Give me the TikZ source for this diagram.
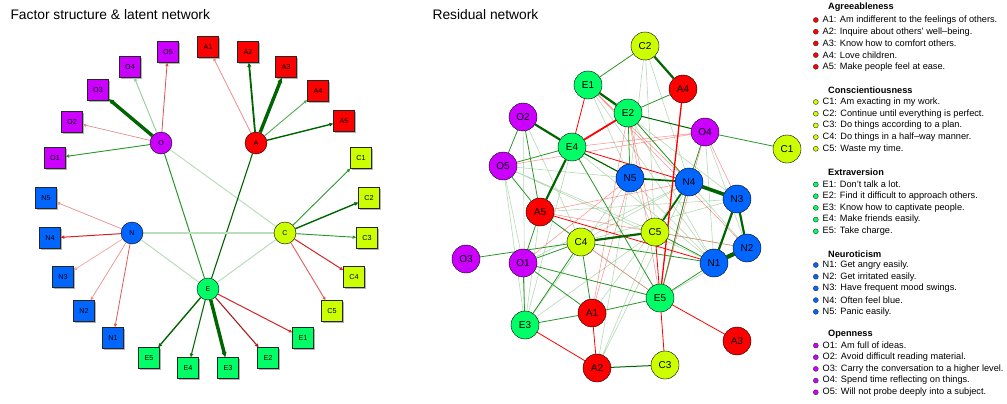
\documentclass[tikz,border=0pt]{standalone}
\usepackage{fontspec}
\setmainfont{Liberation Sans}
\usepackage{tikz}
\usetikzlibrary{arrows.meta,shadows,backgrounds}

\definecolor{agr}{HTML}{FF0000}
\definecolor{con}{HTML}{CCFF00}
\definecolor{ext}{HTML}{00FF66}
\definecolor{neu}{HTML}{0066FF}
\definecolor{ope}{HTML}{CC00FF}
\definecolor{posdark}{RGB}{0,100,0}
\definecolor{posmid}{RGB}{40,150,40}
\definecolor{poslight}{RGB}{185,222,185}
\definecolor{negmid}{RGB}{215,35,35}
\definecolor{neglight}{RGB}{232,140,140}

\begin{document}
\begin{tikzpicture}[x=1pt,y=-1pt,
        factor/.style = {circle, draw, minimum size=22pt, inner sep=0pt,
            font=\fontsize{7}{8}\selectfont, fill=#1},
        item/.style = {rectangle, draw=black!85, minimum size=21pt, inner sep=0pt,
            font=\fontsize{7.2}{8}\selectfont, fill=#1,
            drop shadow={shadow xshift=1.2pt, shadow yshift=-1.2pt, fill=black!30, opacity=1}},
        load/.style = {-{Triangle[length=3pt 0.6, width=2.6pt 0.6]}},
        resid/.style = {circle, draw, minimum size=28pt, inner sep=0pt,
            font=\fontsize{10}{11}\selectfont, fill=#1},
        ps/.style = {draw=posdark, line width=2.2pt},
        pm/.style = {draw=posmid, line width=0.8pt},
        pl/.style = {draw=posmid, line width=0.6pt, draw opacity=0.35},
        ns/.style = {draw=red, line width=1.8pt},
        nm/.style = {draw=red, line width=0.8pt},
        nl/.style = {draw=red, line width=0.5pt, draw opacity=0.45},
        title/.style = {anchor=west, font=\fontsize{13.8}{15}\selectfont},
        leghead/.style = {anchor=west, inner sep=0pt, font=\fontsize{9.2}{10}\selectfont\bfseries},
        legitem/.style = {anchor=west, inner sep=1.5pt, font=\fontsize{9.2}{10}\selectfont,
            label={[circle, draw=black!80, line width=0.4pt, fill=#1, minimum size=5pt,
                inner sep=0pt, label distance=2.5pt]left:{}}}]

    \useasboundingbox (0,0) rectangle (1007,404);

    % Titles
    \node[title] (t1) at (7,15) {Factor structure \& latent network};
    \node[title] (t2) at (429,15) {Residual network};

    % Factors
    \node[factor=ope] (O) at (161,143) {O};
    \node[factor=agr] (A) at (256,143) {A};
    \node[factor=neu] (N) at (132,233) {N};
    \node[factor=con] (C) at (285,233) {C};
    \node[factor=ext] (E) at (208,289) {E};

    % Items
    \node[item=agr] (A1) at (208,47) {A1};
    \node[item=agr] (A2) at (248,52) {A2};
    \node[item=agr] (A3) at (286,67) {A3};
    \node[item=agr] (A4) at (318,91) {A4};
    \node[item=agr] (A5) at (344,121) {A5};
    \node[item=con] (C1) at (361,158) {C1};
    \node[item=con] (C2) at (369,198) {C2};
    \node[item=con] (C3) at (367,238) {C3};
    \node[item=con] (C4) at (354,277) {C4};
    \node[item=con] (C5) at (332,311) {C5};
    \node[item=ext] (E1) at (303,338) {E1};
    \node[item=ext] (E2) at (268,358) {E2};
    \node[item=ext] (E3) at (228,368) {E3};
    \node[item=ext] (E4) at (188,368) {E4};
    \node[item=ext] (E5) at (149,358) {E5};
    \node[item=neu] (N1) at (113,338) {N1};
    \node[item=neu] (N2) at (84,311) {N2};
    \node[item=neu] (N3) at (63,277) {N3};
    \node[item=neu] (N4) at (50,238) {N4};
    \node[item=neu] (N5) at (46,198) {N5};
    \node[item=ope] (O1) at (55,158) {O1};
    \node[item=ope] (O2) at (72,122) {O2};
    \node[item=ope] (O3) at (98,90) {O3};
    \node[item=ope] (O4) at (130,67) {O4};
    \node[item=ope] (O5) at (168,52) {O5};

    % Latent network and loadings
    \begin{scope}[on background layer]
        \draw[posmid, line width=1pt] (O) -- (E);
        \draw[poslight, line width=1pt] (O) -- (C);
        \draw[posdark, line width=1.1pt] (A) -- (E);
        \draw[poslight, line width=1.6pt] (N) -- (C);
        \draw[poslight, line width=1pt] (N) -- (E);
        \draw[poslight, line width=1pt] (C) -- (E);
    \end{scope}
    \draw[load, posmid, line width=0.9pt] (O) -- (O1);
    \draw[load, neglight, line width=0.7pt] (O) -- (O2);
    \draw[load, posdark, line width=3.4pt] (O) -- (O3);
    \draw[load, poslight!80!posmid, line width=1pt] (O) -- (O4);
    \draw[load, negmid!80, line width=0.8pt] (O) -- (O5);
    \draw[load, neglight, line width=0.7pt] (A) -- (A1);
    \draw[load, posdark, line width=1.8pt] (A) -- (A2);
    \draw[load, posdark, line width=3.4pt] (A) -- (A3);
    \draw[load, posmid!80, line width=0.9pt] (A) -- (A4);
    \draw[load, posdark, line width=1.4pt] (A) -- (A5);
    \draw[load, neglight, line width=0.7pt] (N) -- (N5);
    \draw[load, negmid, line width=1pt] (N) -- (N4);
    \draw[load, neglight!80, line width=0.7pt] (N) -- (N3);
    \draw[load, neglight, line width=0.7pt] (N) -- (N2);
    \draw[load, negmid!75, line width=0.8pt] (N) -- (N1);
    \draw[load, posmid, line width=0.9pt] (C) -- (C1);
    \draw[load, posdark, line width=1.4pt] (C) -- (C2);
    \draw[load, posmid, line width=0.9pt] (C) -- (C3);
    \draw[load, negmid, line width=1pt] (C) -- (C4);
    \draw[load, negmid!75, line width=0.9pt] (C) -- (C5);
    \draw[load, negmid, line width=1pt] (E) -- (E1);
    \draw[load, negmid!80!black, line width=1.1pt] (E) -- (E2);
    \draw[load, posdark, line width=3.4pt] (E) -- (E3);
    \draw[load, posdark!80!posmid, line width=1.1pt] (E) -- (E4);
    \draw[load, posdark, line width=1.4pt] (E) -- (E5);

    % Residual network
    \node[resid=con] (rC2) at (645,46) {C2};
    \node[resid=ext] (rE1) at (588,85) {E1};
    \node[resid=agr] (rA4) at (683,89) {A4};
    \node[resid=ext] (rE2) at (628,113) {E2};
    \node[resid=ope] (rO2) at (523,117) {O2};
    \node[resid=ope] (rO4) at (705,132) {O4};
    \node[resid=con] (rC1) at (787,149) {C1};
    \node[resid=ext] (rE4) at (572,147) {E4};
    \node[resid=ope] (rO5) at (503,166) {O5};
    \node[resid=neu] (rN5) at (630,178) {N5};
    \node[resid=neu] (rN4) at (689,182) {N4};
    \node[resid=neu] (rN3) at (737,199) {N3};
    \node[resid=agr] (rA5) at (540,212) {A5};
    \node[resid=con] (rC5) at (655,232) {C5};
    \node[resid=con] (rC4) at (581,242) {C4};
    \node[resid=neu] (rN2) at (747,248) {N2};
    \node[resid=neu] (rN1) at (714,263) {N1};
    \node[resid=ope] (rO3) at (466,259) {O3};
    \node[resid=ope] (rO1) at (523,263) {O1};
    \node[resid=ext] (rE5) at (660,298) {E5};
    \node[resid=ext] (rE3) at (525,325) {E3};
    \node[resid=agr] (rA1) at (592,313) {A1};
    \node[resid=agr] (rA3) at (737,341) {A3};
    \node[resid=con] (rC3) at (665,365) {C3};
    \node[resid=agr] (rA2) at (597,368) {A2};

    \begin{scope}[on background layer]
        % weak edges
        \draw[pl] (rC2) -- (rN5) (rC2) -- (rC5) (rC2) -- (rN4) (rE1) -- (rN1) (rE1) -- (rN3)
            (rE2) -- (rN1) (rE2) -- (rN2) (rO2) -- (rC4) (rO2) -- (rE3) (rO5) -- (rN1)
            (rO5) -- (rE3) (rO5) -- (rC5) (rO5) -- (rN5) (rE4) -- (rE3) (rE4) -- (rN1)
            (rA5) -- (rN3) (rA5) -- (rE5) (rA2) -- (rC5) (rA2) -- (rN5) (rA2) -- (rN4)
            (rO1) -- (rN4) (rE3) -- (rN5) (rO4) -- (rN1) (rO4) -- (rN2) (rN5) -- (rN1)
            (rC5) -- (rN2) (rC4) -- (rN3) (rA1) -- (rN4) (rE5) -- (rN2) (rE3) -- (rC5)
            (rO1) -- (rO5) (rE1) -- (rC5) (rA5) -- (rE3) (rC4) -- (rN4);
        \draw[nl] (rO5) -- (rO4) (rE4) -- (rO4) (rE1) -- (rN4) (rA5) -- (rC5) (rA5) -- (rN4)
            (rA1) -- (rN5) (rC4) -- (rE5) (rO1) -- (rN5) (rE2) -- (rE5) (rE2) -- (rA1)
            (rO4) -- (rE5) (rN4) -- (rE5) (rE2) -- (rC5) (rE1) -- (rN2) (rO4) -- (rN3)
            (rA5) -- (rN2);
        % medium edges
        \draw[pm] (rC2) -- (rE1) (rA4) -- (rE2) (rO2) -- (rO5) (rO5) -- (rE4) (rO4) -- (rC1)
            (rE4) -- (rN5) (rE2) -- (rN5) (rE2) -- (rN4) (rO4) -- (rN4) (rA5) -- (rO1)
            (rA5) -- (rC4) (rO5) -- (rA5) (rO3) -- (rC4) (rC4) -- (rA1) (rC4) -- (rE3)
            (rO1) -- (rE3) (rO1) -- (rE5) (rO1) -- (rA1) (rE3) -- (rA1) (rA1) -- (rE5)
            (rE5) -- (rN1) (rO1) -- (rC4) (rE4) -- (rE5) (rC4) -- (rN1) (rE5) -- (rN4)
            (rC5) -- (rN1) (rO2) -- (rA5);
        \draw[posdark, line width=1pt] (rA2) -- (rC3) (rE2) -- (rO4) (rE4) -- (rN5);
        \draw[nm] (rE1) -- (rE4) (rE4) -- (rN4) (rE5) -- (rA3) (rE5) -- (rC3) (rE3) -- (rA2)
            (rA1) -- (rA2) (rA5) -- (rN1) (rC5) -- (rE5);
        % strong edges
        \draw[ps] (rC2) -- (rA4) (rE1) -- (rE2) (rO2) -- (rE4) (rE4) -- (rA5) (rC4) -- (rC5)
            (rN3) -- (rN1) (rN3) -- (rN2);
        \draw[ps, line width=1.7pt] (rN4) -- (rC5) (rN5) -- (rN4);
        \draw[ps, line width=3.6pt] (rN4) -- (rN3);
        \draw[ps, line width=4.2pt] (rN1) -- (rN2);
        \draw[ns] (rE2) -- (rE4);
        \draw[ns, line width=1.3pt] (rA4) -- (rE5);
    \end{scope}

    % Legend
    \node[leghead] (hA) at (828,7) {Agreeableness};
    \node[legitem=agr] (lA1) at (821,20) {A1: Am indifferent to the feelings of others.};
    \node[legitem=agr] (lA2) at (821,31.7) {A2: Inquire about others' well--being.};
    \node[legitem=agr] (lA3) at (821,43.4) {A3: Know how to comfort others.};
    \node[legitem=agr] (lA4) at (821,55.1) {A4: Love children.};
    \node[legitem=agr] (lA5) at (821,66.8) {A5: Make people feel at ease.};

    \node[leghead] (hC) at (828,90) {Conscientiousness};
    \node[legitem=con] (lC1) at (821,102) {C1: Am exacting in my work.};
    \node[legitem=con] (lC2) at (821,113.7) {C2: Continue until everything is perfect.};
    \node[legitem=con] (lC3) at (821,125.4) {C3: Do things according to a plan.};
    \node[legitem=con] (lC4) at (821,137.1) {C4: Do things in a half--way manner.};
    \node[legitem=con] (lC5) at (821,148.8) {C5: Waste my time.};

    \node[leghead] (hE) at (828,172.5) {Extraversion};
    \node[legitem=ext] (lE1) at (821,184.5) {E1: Don't talk a lot.};
    \node[legitem=ext] (lE2) at (821,196.2) {E2: Find it difficult to approach others.};
    \node[legitem=ext] (lE3) at (821,207.9) {E3: Know how to captivate people.};
    \node[legitem=ext] (lE4) at (821,219.6) {E4: Make friends easily.};
    \node[legitem=ext] (lE5) at (821,231.3) {E5: Take charge.};

    \node[leghead] (hN) at (828,254) {Neuroticism};
    \node[legitem=neu] (lN1) at (821,265) {N1: Get angry easily.};
    \node[legitem=neu] (lN2) at (821,276.7) {N2: Get irritated easily.};
    \node[legitem=neu] (lN3) at (821,288.4) {N3: Have frequent mood swings.};
    \node[legitem=neu] (lN4) at (821,300.1) {N4: Often feel blue.};
    \node[legitem=neu] (lN5) at (821,311.8) {N5: Panic easily.};

    \node[leghead] (hO) at (828,334.5) {Openness};
    \node[legitem=ope] (lO1) at (821,345.5) {O1: Am full of ideas.};
    \node[legitem=ope] (lO2) at (821,357.2) {O2: Avoid difficult reading material.};
    \node[legitem=ope] (lO3) at (821,368.9) {O3: Carry the conversation to a higher level.};
    \node[legitem=ope] (lO4) at (821,380.6) {O4: Spend time reflecting on things.};
    \node[legitem=ope] (lO5) at (821,392.3) {O5: Will not probe deeply into a subject.};

\end{tikzpicture}
\end{document}
